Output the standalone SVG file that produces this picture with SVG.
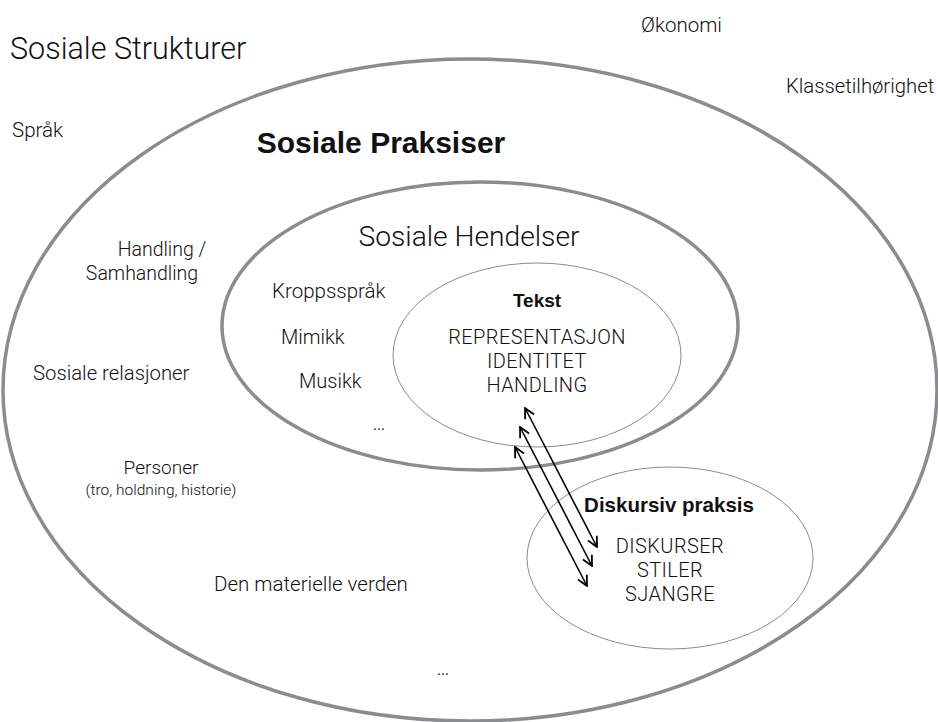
<svg xmlns="http://www.w3.org/2000/svg" width="938" height="722" viewBox="0 0 938 722">
<style>
.t{font-family:Roboto,"Liberation Sans",sans-serif;font-weight:300;fill:#111;}
.b{font-family:"Liberation Sans",Arial,sans-serif;font-weight:bold;fill:#111;}
.thick{fill:none;stroke:#8b8c8f;stroke-width:3.5;}
.thin{fill:none;stroke:#8b8c8f;stroke-width:1;}
.arr{stroke:#000;stroke-width:1.6;fill:none;marker-start:url(#ah);marker-end:url(#ah);}
</style>
<defs>
<marker id="ah" viewBox="0 0 12 12" refX="11" refY="6" markerWidth="12" markerHeight="12" markerUnits="userSpaceOnUse" orient="auto-start-reverse">
<path d="M1,1 L11,6 L1,11" fill="none" stroke="#000" stroke-width="1.8"/>
</marker>
</defs>
<rect width="938" height="722" fill="#fff"/>
<g id="sosiale-strukturer">
<text class="t" x="10" y="59" font-size="30.5">Sosiale Strukturer</text>
<text class="t" x="641" y="32" font-size="20.5">Økonomi</text>
<text class="t" x="786" y="93" font-size="20.3">Klassetilhørighet</text>
<text class="t" x="12" y="137" font-size="20.5">Språk</text>
</g>
<g id="sosiale-praksiser">
<ellipse class="thick" cx="470" cy="390" rx="467" ry="331"/>
<text class="b" x="381" y="153" font-size="30" text-anchor="middle">Sosiale Praksiser</text>
<text class="t" x="162" y="256" font-size="19.5" text-anchor="middle">Handling /</text>
<text class="t" x="142" y="280" font-size="19.5" text-anchor="middle">Samhandling</text>
<text class="t" x="33" y="380" font-size="20.3">Sosiale relasjoner</text>
<text class="t" x="161" y="474" font-size="19" text-anchor="middle">Personer</text>
<text class="t" x="161" y="495" font-size="15.5" text-anchor="middle">(tro, holdning, historie)</text>
<text class="t" x="214" y="591" font-size="20.5">Den materielle verden</text>
<text class="t" x="443" y="675" font-size="20" text-anchor="middle">…</text>
</g>
<g id="sosiale-hendelser">
<ellipse class="thick" cx="480" cy="326" rx="258" ry="144"/>
<text class="t" x="469" y="246" font-size="28.2" text-anchor="middle">Sosiale Hendelser</text>
<text class="t" x="272" y="298" font-size="20.5">Kroppsspråk</text>
<text class="t" x="281" y="344" font-size="20">Mimikk</text>
<text class="t" x="299" y="388" font-size="20">Musikk</text>
<text class="t" x="379" y="430" font-size="20" text-anchor="middle">…</text>
</g>
<g id="tekst">
<ellipse class="thin" cx="537" cy="355" rx="144" ry="92"/>
<text class="b" x="537" y="307" font-size="19" text-anchor="middle">Tekst</text>
<text class="t" x="537" y="344" font-size="20" letter-spacing="0.4" text-anchor="middle">REPRESENTASJON</text>
<text class="t" x="537" y="368" font-size="20" letter-spacing="0.4" text-anchor="middle">IDENTITET</text>
<text class="t" x="537" y="392" font-size="20" letter-spacing="0.4" text-anchor="middle">HANDLING</text>
</g>
<g id="diskursiv-praksis">
<ellipse class="thin" cx="670" cy="558" rx="143" ry="91"/>
<text class="b" x="669" y="512" font-size="20.5" text-anchor="middle">Diskursiv praksis</text>
<text class="t" x="670" y="553" font-size="20" letter-spacing="0.4" text-anchor="middle">DISKURSER</text>
<text class="t" x="670" y="577" font-size="20" letter-spacing="0.4" text-anchor="middle">STILER</text>
<text class="t" x="670" y="601" font-size="20" letter-spacing="0.4" text-anchor="middle">SJANGRE</text>
</g>
<g id="connectors">
<line class="arr" x1="525" y1="408" x2="597" y2="547"/>
<line class="arr" x1="520" y1="427" x2="592" y2="566"/>
<line class="arr" x1="515" y1="447" x2="587" y2="586"/>
</g>
</svg>
